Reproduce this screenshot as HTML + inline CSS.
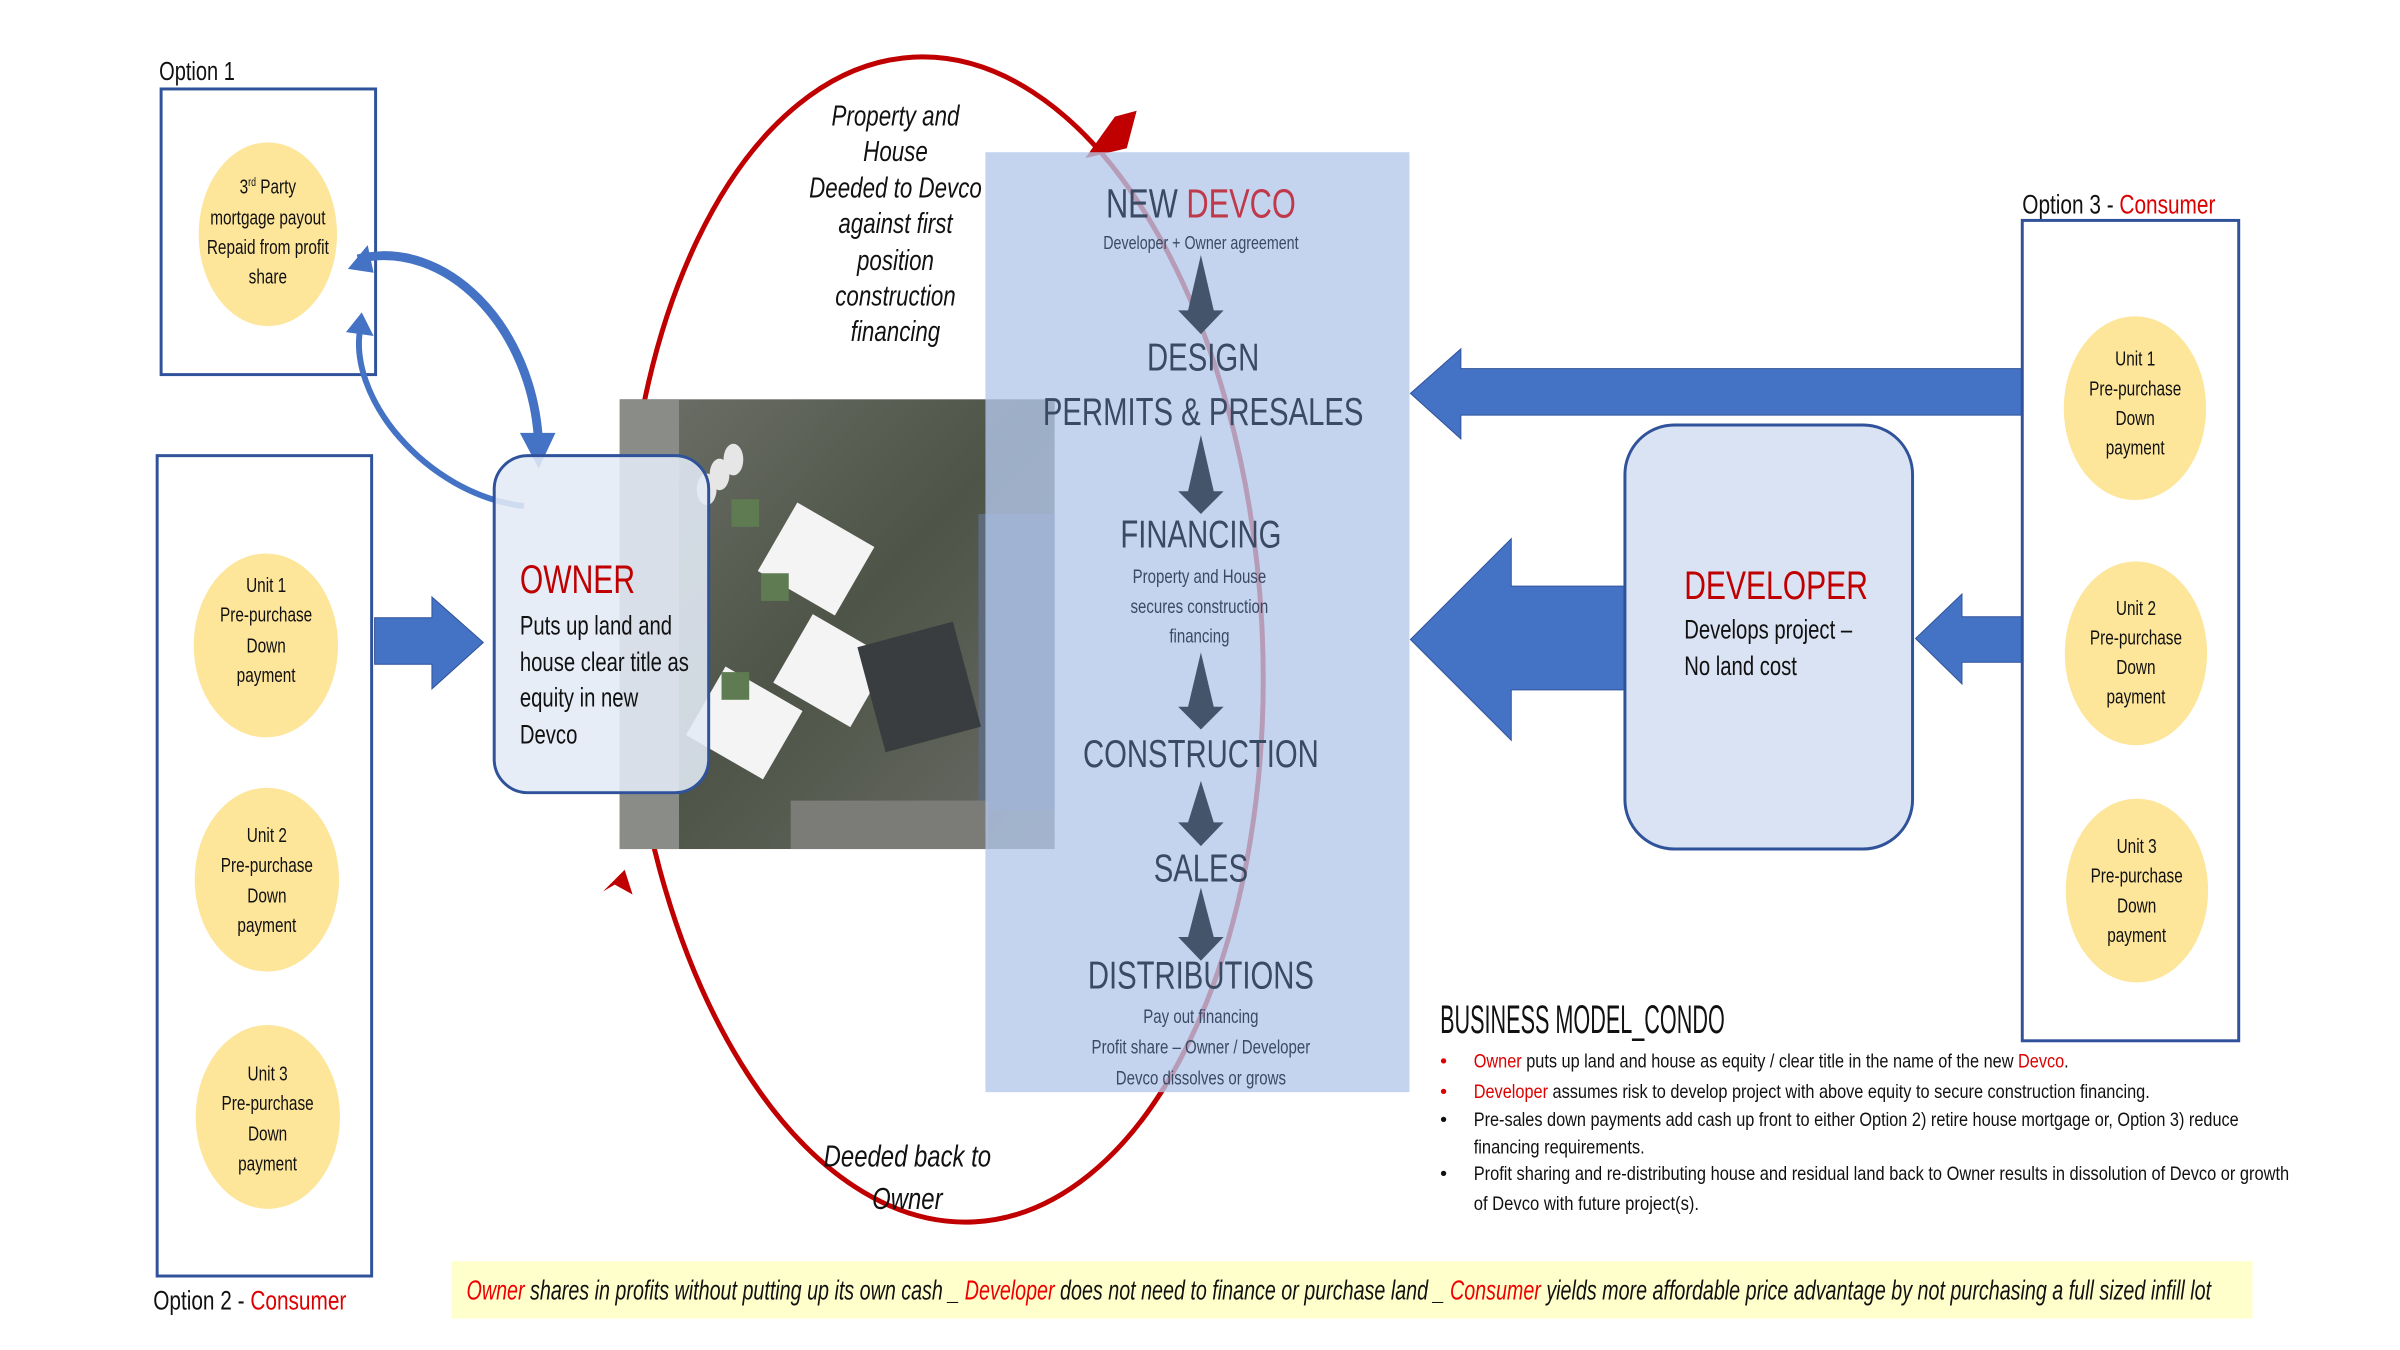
<!DOCTYPE html>
<html><head><meta charset="utf-8"><style>
html,body{margin:0;padding:0;background:#fff;}
svg{display:block;}
text{font-family:"Liberation Sans Narrow","Liberation Sans",sans-serif;}
</style></head><body>
<svg width="2400" height="1350" viewBox="0 0 2400 1350" xmlns="http://www.w3.org/2000/svg">
<defs>
<linearGradient id="ph" x1="0" y1="0" x2="1" y2="1">
<stop offset="0" stop-color="#6d7068"/><stop offset="0.5" stop-color="#4e5447"/><stop offset="1" stop-color="#6a6c66"/>
</linearGradient>
</defs>
<rect width="2400" height="1350" fill="#fff"/>
<g transform="scale(0.9884)">

<!-- Option 1 -->
<g transform="translate(161 0) scale(0.78 1) translate(-161 0)"><text x="161" y="81" font-size="26" fill="#111">Option 1</text></g>
<rect x="163" y="90" width="217" height="289" fill="none" stroke="#2f529a" stroke-width="3"/>
<ellipse cx="271" cy="237" rx="70" ry="93" fill="#fde59a"/>
<g transform="translate(271 0) scale(0.74 1) translate(-271 0)" font-size="21" fill="#111" text-anchor="middle">
<text x="271" y="196">3<tspan font-size="12" dy="-8">rd</tspan><tspan dy="8"> Party</tspan></text>
<text x="271" y="227">mortgage payout</text>
<text x="271" y="257">Repaid from profit</text>
<text x="271" y="287">share</text>
</g>

<!-- Option 2 -->
<rect x="159" y="461" width="217" height="830" fill="none" stroke="#2f529a" stroke-width="3"/>
<g transform="translate(155 0) scale(0.78 1) translate(-155 0)"><text x="155" y="1325" font-size="27" fill="#111">Option 2 - <tspan fill="#d00">Consumer</tspan></text></g>
<g fill="#fde59a">
<ellipse cx="269" cy="653" rx="73" ry="93"/>
<ellipse cx="270" cy="890" rx="73" ry="93"/>
<ellipse cx="271" cy="1130" rx="73" ry="93"/>
</g>
<g transform="translate(270 0) scale(0.74 1) translate(-270 0)" font-size="21" fill="#111" text-anchor="middle">
<text x="269" y="599">Unit 1</text><text x="269" y="629">Pre-purchase</text><text x="269" y="660">Down</text><text x="269" y="690">payment</text>
<text x="270" y="852">Unit 2</text><text x="270" y="882">Pre-purchase</text><text x="270" y="913">Down</text><text x="270" y="943">payment</text>
<text x="271" y="1093">Unit 3</text><text x="271" y="1123">Pre-purchase</text><text x="271" y="1154">Down</text><text x="271" y="1184">payment</text>
</g>
<polygon points="379,625 437,625 437,604 489,650 437,697 437,672 379,672" fill="#4472c4" stroke="#2f529a" stroke-width="1"/>

<!-- curved arrows option1 <-> owner -->
<path d="M362,262 C450,240 540,330 545,450" fill="none" stroke="#4472c4" stroke-width="9"/>
<polygon points="352,272 372,248 378,276" fill="#4472c4"/>
<polygon points="526,438 562,438 545,474" fill="#4472c4"/>
<path d="M530,512 C430,500 350,400 365,330" fill="none" stroke="#4472c4" stroke-width="6"/>
<polygon points="350,336 366,316 378,340" fill="#4472c4"/>

<!-- red ellipse -->
<ellipse cx="955" cy="647" rx="322" ry="590" fill="none" stroke="#c00000" stroke-width="5" transform="rotate(-3 955 647)"/>
<polygon points="1128,118 1150,112 1140,150 1098,160" fill="#c00000"/>
<polygon points="610,902 632,880 640,905 622,895" fill="#c00000"/>

<!-- photo -->
<rect x="627" y="404" width="440" height="455" fill="url(#ph)"/>
<rect x="627" y="404" width="60" height="455" fill="#8a8c88"/>
<rect x="990" y="520" width="77" height="300" fill="#5e6b7d"/>
<rect x="800" y="810" width="200" height="49" fill="#7b7b78"/>
<g fill="#f4f4f4" transform="rotate(30 800 620)">
<rect x="750" y="520" width="90" height="80"/>
<rect x="820" y="610" width="90" height="80"/>
<rect x="770" y="700" width="90" height="80"/>
</g>
<g fill="#5f7b52"><rect x="740" y="505" width="28" height="28"/><rect x="770" y="580" width="28" height="28"/><rect x="730" y="680" width="28" height="28"/></g>
<rect x="880" y="640" width="100" height="110" fill="#3a3d3f" transform="rotate(-15 930 695)"/>
<g fill="#e6e6e6"><ellipse cx="742" cy="465" rx="10" ry="16"/><ellipse cx="728" cy="480" rx="10" ry="16"/><ellipse cx="715" cy="495" rx="10" ry="16"/></g>

<!-- Owner box -->
<rect x="500" y="461" width="217" height="341" rx="34" fill="#e3eaf6" fill-opacity="0.88" stroke="#2f529a" stroke-width="3"/>
<g transform="translate(526 0) scale(0.76 1) translate(-526 0)">
<text x="526" y="600" font-size="40" fill="#c00000">OWNER</text>
<g font-size="27" fill="#111">
<text x="526" y="642">Puts up land and</text>
<text x="526" y="679">house  clear title as</text>
<text x="526" y="715">equity in new</text>
<text x="526" y="752">Devco</text>
</g></g>

<!-- Devco panel -->
<rect x="997" y="154" width="429" height="951" fill="#b4c8eb" fill-opacity="0.78"/>

<!-- italic labels -->
<g transform="translate(906 0) scale(0.78 1) translate(-906 0)" font-size="29" font-style="italic" fill="#111" text-anchor="middle">
<text x="906" y="127">Property and</text>
<text x="906" y="163">House</text>
<text x="906" y="200">Deeded to Devco</text>
<text x="906" y="236">against first</text>
<text x="906" y="273">position</text>
<text x="906" y="309">construction</text>
<text x="906" y="345">financing</text>
</g>
<g transform="translate(918 0) scale(0.78 1) translate(-918 0)" font-size="31" font-style="italic" fill="#111" text-anchor="middle">
<text x="918" y="1180">Deeded back to</text>
<text x="918" y="1223">Owner</text>
</g>

<!-- Devco text -->
<g transform="translate(1215 0) scale(0.76 1) translate(-1215 0)" text-anchor="middle" fill="#3b4a63">
<text x="1215" y="220" font-size="41">NEW <tspan fill="#c0394b">DEVCO</tspan></text>
<text x="1215" y="252" font-size="19">Developer + Owner agreement</text>
<text x="1218" y="375" font-size="39">DESIGN</text>
<text x="1218" y="430" font-size="39">PERMITS &amp; PRESALES</text>
<text x="1215" y="554" font-size="39">FINANCING</text>
<text x="1213" y="590" font-size="20">Property and House</text>
<text x="1213" y="620" font-size="20">secures construction</text>
<text x="1213" y="650" font-size="20">financing</text>
<text x="1215" y="776" font-size="39">CONSTRUCTION</text>
<text x="1215" y="892" font-size="39">SALES</text>
<text x="1215" y="1000" font-size="39">DISTRIBUTIONS</text>
<text x="1215" y="1035" font-size="20">Pay out financing</text>
<text x="1215" y="1066" font-size="20">Profit share – Owner / Developer</text>
<text x="1215" y="1097" font-size="20">Devco dissolves or grows</text>
</g>
<g fill="#44546a">
<polygon points="1215,258 1228,314 1238,314 1215,338 1192,314 1202,314"/>
<polygon points="1215,440 1228,497 1238,497 1215,520 1192,497 1202,497"/>
<polygon points="1215,660 1228,715 1238,715 1215,738 1192,715 1202,715"/>
<polygon points="1215,790 1228,832 1238,832 1215,856 1192,832 1202,832"/>
<polygon points="1215,898 1228,948 1238,948 1215,972 1192,948 1202,948"/>
</g>

<!-- big arrows -->
<polygon points="2046,373 1478,373 1478,353 1427,398 1478,444 1478,420 2046,420" fill="#4472c4" stroke="#2f529a" stroke-width="1"/>
<polygon points="1644,593 1529,593 1529,545 1427,647 1529,749 1529,698 1644,698" fill="#4472c4" stroke="#2f529a" stroke-width="1"/>
<polygon points="2046,624 1985,624 1985,601 1938,646 1985,692 1985,670 2046,670" fill="#4472c4" stroke="#2f529a" stroke-width="1"/>

<!-- Developer box -->
<rect x="1644" y="430" width="291" height="429" rx="50" fill="#dae3f3" stroke="#2f529a" stroke-width="3"/>
<g transform="translate(1704 0) scale(0.76 1) translate(-1704 0)">
<text x="1704" y="606" font-size="40" fill="#c00000">DEVELOPER</text>
<text x="1704" y="646" font-size="27" fill="#111">Develops project –</text>
<text x="1704" y="683" font-size="27" fill="#111">No land cost</text>
</g>

<!-- Option 3 -->
<g transform="translate(2046 0) scale(0.78 1) translate(-2046 0)"><text x="2046" y="216" font-size="27" fill="#111">Option 3 - <tspan fill="#d00">Consumer</tspan></text></g>
<rect x="2046" y="223" width="219" height="830" fill="none" stroke="#2f529a" stroke-width="3"/>
<g fill="#fde59a">
<ellipse cx="2160" cy="413" rx="72" ry="93"/>
<ellipse cx="2161" cy="661" rx="72" ry="93"/>
<ellipse cx="2162" cy="901" rx="72" ry="93"/>
</g>
<g transform="translate(2161 0) scale(0.74 1) translate(-2161 0)" font-size="21" fill="#111" text-anchor="middle">
<text x="2160" y="370">Unit 1</text><text x="2160" y="400">Pre-purchase</text><text x="2160" y="430">Down</text><text x="2160" y="460">payment</text>
<text x="2161" y="622">Unit 2</text><text x="2161" y="652">Pre-purchase</text><text x="2161" y="682">Down</text><text x="2161" y="712">payment</text>
<text x="2162" y="863">Unit 3</text><text x="2162" y="893">Pre-purchase</text><text x="2162" y="923">Down</text><text x="2162" y="953">payment</text>
</g>

<!-- Business model -->
<text x="1457" y="1045" font-size="40" fill="#111" textLength="288" lengthAdjust="spacingAndGlyphs">BUSINESS MODEL_CONDO</text>
<g font-size="20" fill="#111">
<text x="1457" y="1080" fill="#d00">•</text>
<text x="1457" y="1111" fill="#d00">•</text>
<text x="1457" y="1139">•</text>
<text x="1457" y="1194">•</text>
<text x="1491" y="1080" textLength="602" lengthAdjust="spacingAndGlyphs"><tspan fill="#d00">Owner</tspan> puts up land and house as equity / clear title in the name of the new <tspan fill="#d00">Devco</tspan>.</text>
<text x="1491" y="1111" textLength="684" lengthAdjust="spacingAndGlyphs"><tspan fill="#d00">Developer</tspan> assumes risk to develop project with above equity to secure construction financing.</text>
<text x="1491" y="1139" textLength="774" lengthAdjust="spacingAndGlyphs">Pre-sales down payments add cash up front to either Option 2) retire house mortgage or, Option 3) reduce</text>
<text x="1491" y="1167" textLength="173" lengthAdjust="spacingAndGlyphs">financing requirements.</text>
<text x="1491" y="1194" textLength="825" lengthAdjust="spacingAndGlyphs">Profit sharing and re-distributing house and residual land back to Owner results in dissolution of Devco or growth</text>
<text x="1491" y="1224" textLength="228" lengthAdjust="spacingAndGlyphs">of Devco with future project(s).</text>
</g>

<!-- bottom band -->
<rect x="457" y="1276" width="1822" height="58" fill="#ffffcc"/>
<text x="472" y="1315" font-size="28" font-style="italic" fill="#111" textLength="1765" lengthAdjust="spacingAndGlyphs"><tspan fill="#e00">Owner</tspan> shares in profits without putting up its own cash _ <tspan fill="#e00">Developer</tspan> does not need to finance or purchase land _ <tspan fill="#e00">Consumer</tspan> yields more affordable price advantage by not purchasing a full sized infill lot</text>
</g>
</svg>
</body></html>
